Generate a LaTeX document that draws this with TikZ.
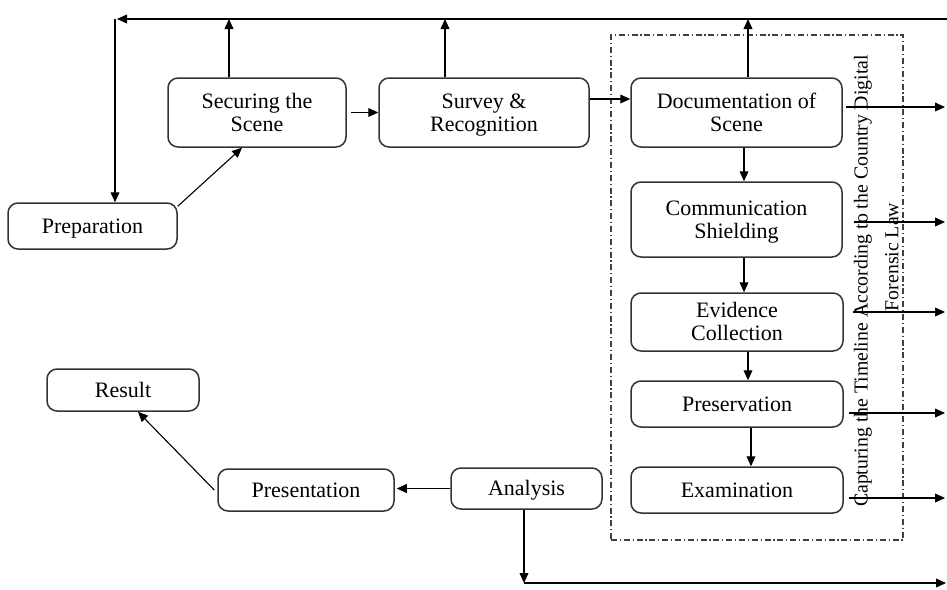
\documentclass[tikz,border=0pt]{standalone}
\usepackage{fontspec}
\setmainfont{Liberation Serif}
\usetikzlibrary{arrows.meta,calc}

% struts that fix the first-line height and last-line depth inside boxes
\newcommand\topstrut{\rule{0pt}{10.6pt}}
\newcommand\botstrut{\rule[-3.45pt]{0pt}{0pt}}
\newcommand\twolines[2]{\topstrut#1\\#2\botstrut}

\tikzset{
  box/.style={draw=black!80, line width=0.75pt, rounded corners=5pt,
    align=center, inner sep=0pt, font=\fontsize{11}{11.5}\selectfont,
    execute at begin node=\topstrut, execute at end node=\botstrut},
  arr/.style={draw=black, line width=0.55pt, -{Triangle[length=5pt,width=4.4pt]}},
  frame/.style={draw=black!75, line width=0.6pt,
    dash pattern=on 3pt off 1.4pt on 0.6pt off 1.4pt, inner sep=0pt},
  sidetext/.style={rotate=90, inner sep=0pt, font=\fontsize{9.9}{12}\selectfont}
}

\begin{document}
\begin{tikzpicture}[x=0.5pt, y=-0.5pt]
  \useasboundingbox (0,0) rectangle (947,589);

  % process boxes
  \node[box, minimum width=84.5pt, minimum height=23pt]   (prep)   at (92.5,226)  {Preparation};
  \node[box, minimum width=89pt,   minimum height=34.5pt] (secure) at (257,112.5) {\twolines{Securing the}{Scene}};
  \node[box, minimum width=105pt,  minimum height=34.5pt] (survey) at (484,112.5) {\twolines{Survey \&}{Recognition}};
  \node[box, minimum width=105.5pt,minimum height=34.5pt] (doc)    at (736.5,112.5) {\twolines{Documentation of}{Scene}};
  \node[box, minimum width=105.5pt,minimum height=37.5pt] (comm)   at (736.5,219.5) {\twolines{Communication}{Shielding}};
  \node[box, minimum width=106pt,  minimum height=29pt]   (evid)   at (737,322)   {\twolines{Evidence}{Collection}};
  \node[box, minimum width=106pt,  minimum height=23pt]   (pres)   at (737,404)   {Preservation};
  \node[box, minimum width=106pt,  minimum height=23pt]   (exam)   at (737,490)   {Examination};
  \node[box, minimum width=75.5pt, minimum height=20.5pt] (anal)   at (526.5,488.5) {Analysis};
  \node[box, minimum width=88pt,   minimum height=21pt]   (presn)  at (306,490)   {Presentation};
  \node[box, minimum width=76pt,   minimum height=21pt]   (result) at (123,390)   {Result};

  % dash-dotted frame round the on-scene steps
  \node[frame, minimum width=146pt, minimum height=252.5pt] (grp) at (757,287.5) {};

  % rotated side label
  \node[sidetext] (lab1) at (863,281) {Capturing the Timeline According to the Country Digital};
  \node[sidetext] (lab2) at (892,257) {Forensic Law};

  % free ends of the long return lines
  \coordinate (topR) at (947,19);
  \coordinate (topL) at (117,19);
  \coordinate (botR) at (946,583);

  % feedback line along the top
  \draw[arr] (topR) -- (topL);
  \draw[arr] (115,19) coordinate (tl) -- (tl |- prep.north);
  \draw[arr] ([xshift=-14pt]secure.north) coordinate (s1) -- (s1 |- topR);
  \draw[arr] ([xshift=-19.5pt]survey.north) coordinate (s2) -- (s2 |- topR);
  \draw[arr] ([xshift=5.75pt]doc.north) coordinate (s3) -- (s3 |- topR);

  % main flow
  \draw[arr] ([yshift=-2pt]prep.north east) -- ([xshift=-7.5pt]secure.south);
  \draw[arr] ([xshift=2pt]secure.east) -- (survey.west);
  \draw[arr] ([yshift=6.75pt]survey.east) -- ([yshift=6.75pt]doc.west);
  \draw[arr] ([xshift=3.75pt]doc.south) coordinate (d1) -- (d1 |- comm.north);
  \draw[arr] ([xshift=3.75pt]comm.south) coordinate (d2) -- (d2 |- evid.north);
  \draw[arr] ([xshift=5.5pt]evid.south) coordinate (d3) -- (d3 |- pres.north);
  \draw[arr] ([xshift=7pt]pres.south) coordinate (d4) -- (d4 |- exam.north);
  \draw[arr] (anal.west) -- ([xshift=1pt]anal.west -| presn.east);
  \draw[arr] ([xshift=-1.5pt]presn.west) -- ([xshift=7.5pt]result.south);

  % outputs to the right
  \coordinate (o1) at (945,107);
  \coordinate (o2) at (945,222);
  \coordinate (o3) at (945,312);
  \coordinate (o4) at (945,413);
  \coordinate (o5) at (945,498);
  \draw[arr] ([xshift=1.5pt]doc.east |- o1) -- (o1);
  \draw[arr] ([xshift=5.5pt]comm.east |- o2) -- (o2);
  \draw[arr] ([xshift=4.5pt]evid.east |- o3) -- (o3);
  \draw[arr] ([xshift=2.5pt]pres.east |- o4) -- (o4);
  \draw[arr] ([xshift=2.5pt]exam.east |- o5) -- (o5);

  % analysis output along the bottom
  \draw[arr] ([xshift=-1.25pt]anal.south) coordinate (a1) -- (a1 |- botR);
  \draw[arr] (a1 |- botR) -- (botR);
\end{tikzpicture}
\end{document}
